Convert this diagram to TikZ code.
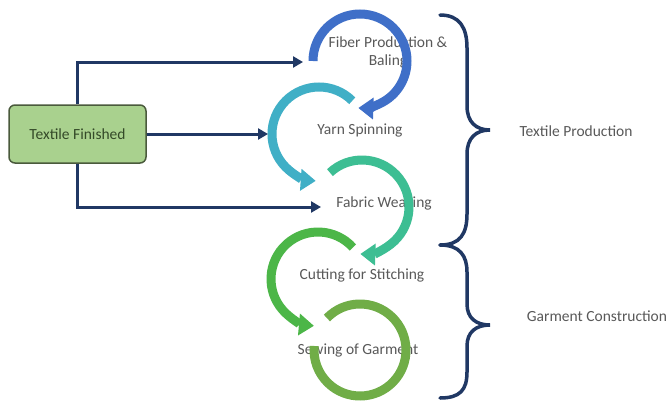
\documentclass[tikz,border=0pt]{standalone}
\usepackage{fontspec}
\setmainfont{Carlito}
\usetikzlibrary{arrows.meta}
\definecolor{navy}{HTML}{203864}
\definecolor{txtgray}{HTML}{595959}
\definecolor{boxfill}{HTML}{A9D18E}
\definecolor{boxline}{HTML}{4A5A3C}
\definecolor{boxtext}{HTML}{344A28}
\definecolor{cA}{HTML}{3F6FC8}
\definecolor{cB}{HTML}{40AFC6}
\definecolor{cC}{HTML}{3DBE93}
\definecolor{cD}{HTML}{4CB648}
\definecolor{cE}{HTML}{70AD47}
\begin{document}
\begin{tikzpicture}[x=1pt,y=-1pt,
  conn/.style={draw=navy, line width=3pt, -{Triangle[width=11pt,length=10pt]}},
  ring/.style={line width=9pt},
  ringarrow/.style={ring, -{Triangle[width=21pt,length=15pt]}},
  lbl/.style={text=txtgray, font=\fontsize{15.5}{18}\selectfont, align=center, inner sep=0pt},
  brace/.style={draw=navy, line width=3.5pt, line cap=round}
]
\path[use as bounding box] (0,0) rectangle (669,407);
\fill[white] (0,0) rectangle (669,407);

% box
\node[draw=boxline, fill=boxfill, line width=1.5pt, rounded corners=6pt,
      minimum width=137pt, minimum height=58pt, inner sep=0pt,
      font=\fontsize{15.5}{18}\selectfont, text=boxtext] (box) at (77.5,134) {Textile Finished};

% step labels
\node[lbl] (s1) at (388,52) {Fiber Production \&\\Baling};
\node[lbl] (s2) at (360,130) {Yarn Spinning};
\node[lbl] (s3) at (384,203) {Fabric Weaving};
\node[lbl] (s4) at (362,275) {Cutting for Stitching};
\node[lbl] (s5) at (358,350) {Sewing of Garment};

% circular arrows
\draw[ringarrow, draw=cA] (360,61) ++(180:47) arc[start angle=180, end angle=452, radius=47];
\draw[ringarrow, draw=cB] (319,134) ++(-45:47) arc[start angle=-45, end angle=-266, radius=47];
\draw[ringarrow, draw=cC] (362,207) ++(227:47) arc[start angle=227, end angle=452, radius=47];
\draw[ringarrow, draw=cD] (318,279) ++(-42:47) arc[start angle=-42, end angle=-265, radius=47];
\draw[ring, draw=cE] (360,350) ++(224:46) arc[start angle=224, end angle=545, radius=46];

% connectors
\coordinate (t1) at (303,62);
\coordinate (t2) at (268,134);
\coordinate (t3) at (321,207);
\draw[conn] (box.north) |- (t1);
\draw[conn] (box.east) -- (t2);
\draw[conn] (box.south) |- (t3);

% braces
\draw[brace] (440,15) .. controls (460,15) and (467,28) .. (467,48) -- (467,106)
  .. controls (467,122) and (476,130) .. (490,130)
  .. controls (476,130) and (467,138) .. (467,154) -- (467,214)
  .. controls (467,234) and (460,245) .. (440,245);
\draw[brace] (440,245) .. controls (460,245) and (467,256) .. (467,272) -- (467,304)
  .. controls (467,318) and (476,325) .. (490,325)
  .. controls (476,325) and (467,332) .. (467,346) -- (467,372)
  .. controls (467,390) and (460,398) .. (440,398);

\node[lbl] (tp) at (576,131) {Textile Production};
\node[lbl] (gc) at (597,316) {Garment Construction};
\end{tikzpicture}
\end{document}
